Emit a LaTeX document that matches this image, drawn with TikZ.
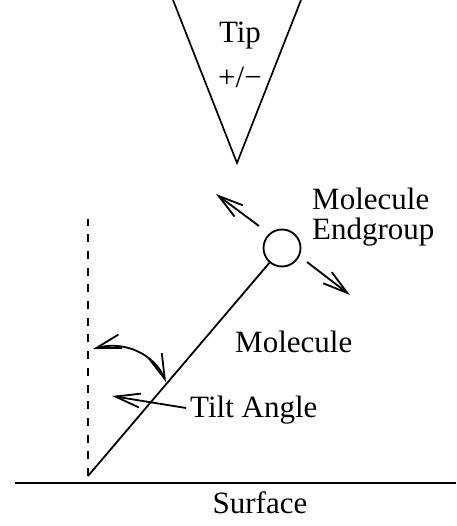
\documentclass[tikz,border=0pt]{standalone}
\usepackage{fontspec}
\setmainfont{Liberation Serif}
\usetikzlibrary{arrows.meta}
\begin{document}
\begin{tikzpicture}[x=1pt,y=-1pt,
  line/.style={line width=1.8pt},
  barb/.style={line/.try, -{Straight Barb[length=25pt,width=14pt,line width=1.8pt]}},
  dbarb/.style={line/.try, {Straight Barb[length=25pt,width=14pt,line width=1.8pt]}-{Straight Barb[length=25pt,width=14pt,line width=1.8pt]}},
  lbl/.style={font=\fontsize{31}{36}\selectfont, inner sep=0pt}]
\useasboundingbox (0,0) rectangle (456,526);
% tip
\coordinate (tl) at (173,0);
\coordinate (apex) at (237,163);
\coordinate (tr) at (301,0);
\draw[line, line width=1.7pt, line join=miter] (tl) -- (apex) -- (tr);
\node[lbl, anchor=base] (tiptxt) at (240,43) {Tip};
\node[lbl, anchor=base] (pm) at (240,88) {+/−};
% surface
\coordinate (sl) at (15,483);
\coordinate (sr) at (456,483);
\draw[line width=2.4pt] (sl) -- (sr);
\node[lbl, anchor=base] (surf) at (260,513) {Surface};
% dashed normal
\coordinate (base) at (88,476);
\coordinate (ntop) at (88,219);
\draw[line, dash pattern=on 8pt off 8.7pt] (base) -- (ntop);
% molecule
\node[draw, circle, line width=1.8pt, minimum size=37pt, inner sep=0pt] (end) at (282,248) {};
\draw[line] (base) -- (end);
\node[lbl, anchor=base west] (mol) at (235,352) {Molecule};
\node[lbl, anchor=base west] (molend) at (312,210) {Molecule};
\node[lbl, anchor=base west] (endg) at (312,239) {Endgroup};
% motion arrows
\coordinate (a1s) at (259,226);
\coordinate (a1e) at (216,194);
\coordinate (a2s) at (307,262);
\coordinate (a2e) at (350,295);
\draw[barb] (a1s) -- (a1e);
\draw[barb] (a2s) -- (a2e);
% tilt angle
\coordinate (angA) at (93,349);
\coordinate (angB) at (166,382);
\draw[dbarb] (angA) .. controls (125,340) and (155,355) .. (angB);
\node[lbl, anchor=base west] (tilt) at (190,417) {Tilt Angle};
\coordinate (tiltStart) at (186,408);
\coordinate (tiltTip) at (112,396);
\draw[barb] (tiltStart) -- (tiltTip);
\end{tikzpicture}
\end{document}
